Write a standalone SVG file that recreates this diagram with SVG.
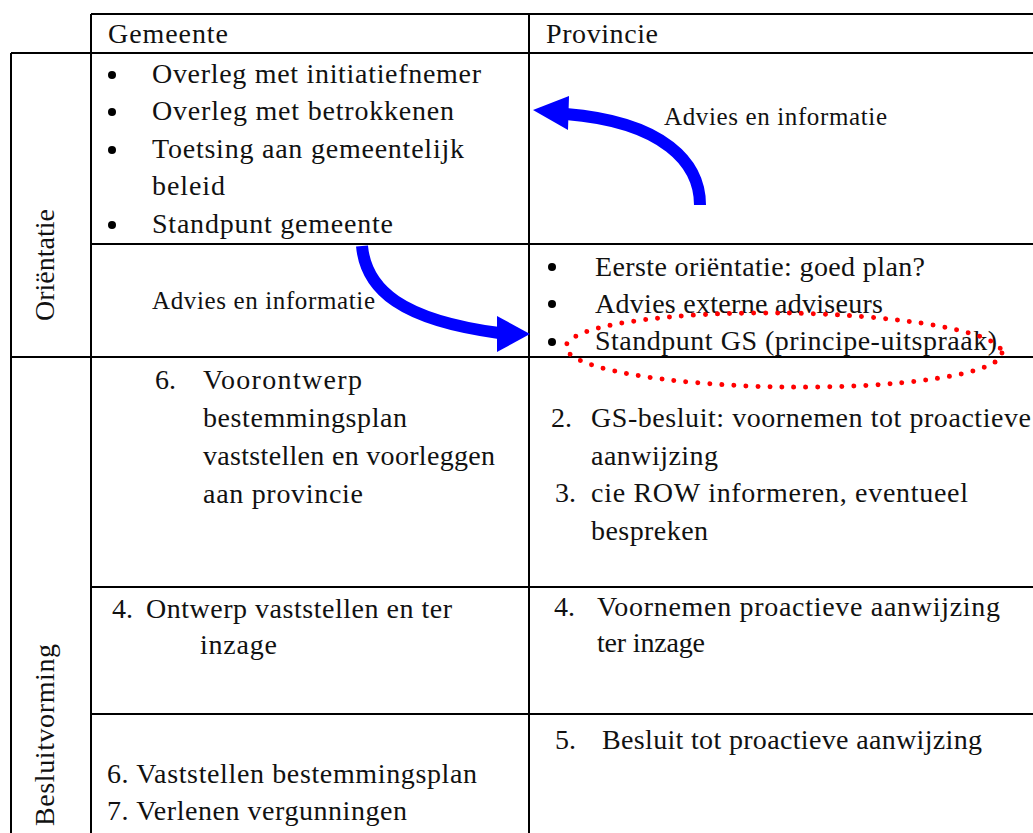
<svg xmlns="http://www.w3.org/2000/svg" width="1033" height="833" viewBox="0 0 1033 833">
<style>
.t{font-family:"Liberation Serif","Times New Roman",serif;font-size:28px;fill:#111;}
.s{font-family:"Liberation Serif","Times New Roman",serif;font-size:25px;fill:#111;}
.g{stroke:#000;stroke-width:2;fill:none;}
.b{fill:#000;}
.arr{fill:none;stroke:#0000ff;stroke-width:12;}
.ah{fill:#0000ff;}
</style>
<rect width="1033" height="833" fill="#fff"/>
<g id="grid">
<line class="g" x1="91" y1="14" x2="1033" y2="14"/>
<line class="g" x1="11" y1="53" x2="1033" y2="53"/>
<line class="g" x1="91" y1="244" x2="1033" y2="244"/>
<line class="g" x1="11" y1="357" x2="1033" y2="357"/>
<line class="g" x1="91" y1="587" x2="1033" y2="587"/>
<line class="g" x1="91" y1="714" x2="1033" y2="714"/>
<line class="g" x1="11" y1="53" x2="11" y2="833"/>
<line class="g" x1="91" y1="14" x2="91" y2="833"/>
<line class="g" x1="529" y1="14" x2="529" y2="833"/>
</g>
<g id="header-gemeente"><text class="t" x="108" y="43" textLength="120">Gemeente</text></g>
<g id="header-provincie"><text class="t" x="546" y="43" textLength="112">Provincie</text></g>
<g id="label-orientatie"><text class="t" transform="translate(54,265) rotate(-90)" text-anchor="middle" textLength="112">Oriëntatie</text></g>
<g id="label-besluitvorming"><text class="t" transform="translate(54,735) rotate(-90)" text-anchor="middle" textLength="182">Besluitvorming</text></g>
<g id="gemeente-orientatie">
<circle class="b" cx="112" cy="75" r="4"/>
<circle class="b" cx="112" cy="112" r="4"/>
<circle class="b" cx="112" cy="150" r="4"/>
<circle class="b" cx="112" cy="225" r="4"/>
<text class="t" x="152" y="83" textLength="329">Overleg met initiatiefnemer</text>
<text class="t" x="152" y="120" textLength="302">Overleg met betrokkenen</text>
<text class="t" x="152" y="158" textLength="312">Toetsing aan gemeentelijk</text>
<text class="t" x="152" y="195" textLength="73">beleid</text>
<text class="t" x="152" y="233" textLength="241">Standpunt gemeente</text>
</g>
<g id="provincie-orientatie">
<circle class="b" cx="552" cy="267" r="4"/>
<circle class="b" cx="552" cy="304" r="4"/>
<circle class="b" cx="552" cy="342" r="4"/>
<text class="t" x="595" y="276" textLength="330">Eerste oriëntatie: goed plan?</text>
<text class="t" x="595" y="313" textLength="288">Advies externe adviseurs</text>
<text class="t" x="595" y="350" textLength="402">Standpunt GS (principe-uitspraak)</text>
</g>
<g id="gemeente-voorontwerp">
<text class="t" x="155" y="389">6.</text>
<text class="t" x="203" y="389" textLength="159">Voorontwerp</text>
<text class="t" x="203" y="427" textLength="204">bestemmingsplan</text>
<text class="t" x="203" y="465" textLength="292">vaststellen en voorleggen</text>
<text class="t" x="203" y="503" textLength="160">aan provincie</text>
</g>
<g id="provincie-gs-besluit">
<text class="t" x="551" y="427">2.</text>
<text class="t" x="591" y="427" textLength="440">GS-besluit: voornemen tot proactieve</text>
<text class="t" x="591" y="465" textLength="127">aanwijzing</text>
<text class="t" x="555" y="502">3.</text>
<text class="t" x="591" y="502" textLength="377">cie ROW informeren, eventueel</text>
<text class="t" x="591" y="540" textLength="117">bespreken</text>
</g>
<g id="gemeente-ontwerp">
<text class="t" x="112" y="618">4.</text>
<text class="t" x="146" y="618" textLength="306">Ontwerp vaststellen en ter</text>
<text class="t" x="200" y="654" textLength="77">inzage</text>
</g>
<g id="provincie-voornemen">
<text class="t" x="554" y="616">4.</text>
<text class="t" x="597" y="616" textLength="403">Voornemen proactieve aanwijzing</text>
<text class="t" x="597" y="652" textLength="108">ter inzage</text>
</g>
<g id="gemeente-vaststellen">
<text class="t" x="107" y="783" textLength="370">6. Vaststellen bestemmingsplan</text>
<text class="t" x="107" y="820" textLength="300">7. Verlenen vergunningen</text>
</g>
<g id="provincie-besluit">
<text class="t" x="555" y="749">5.</text>
<text class="t" x="602" y="749" textLength="380">Besluit tot proactieve aanwijzing</text>
</g>
<g id="connectors">
<path class="arr" d="M700 205 C700 163 664 122 566 114"/>
<polygon class="ah" points="533,110 569,96 568,130"/>
<text class="s" x="664" y="125" textLength="223">Advies en informatie</text>
<path class="arr" d="M362 246 C366 290 402 320 499 333"/>
<polygon class="ah" points="530,334 497,316 497,352"/>
<text class="s" x="152" y="309" textLength="223">Advies en informatie</text>
</g>
<g id="highlight">
<ellipse cx="784" cy="350" rx="218" ry="37" transform="rotate(0.8 784 350)" fill="none" stroke="#ff0000" stroke-width="5" stroke-linecap="round" stroke-dasharray="0 12"/>
</g>
</svg>
